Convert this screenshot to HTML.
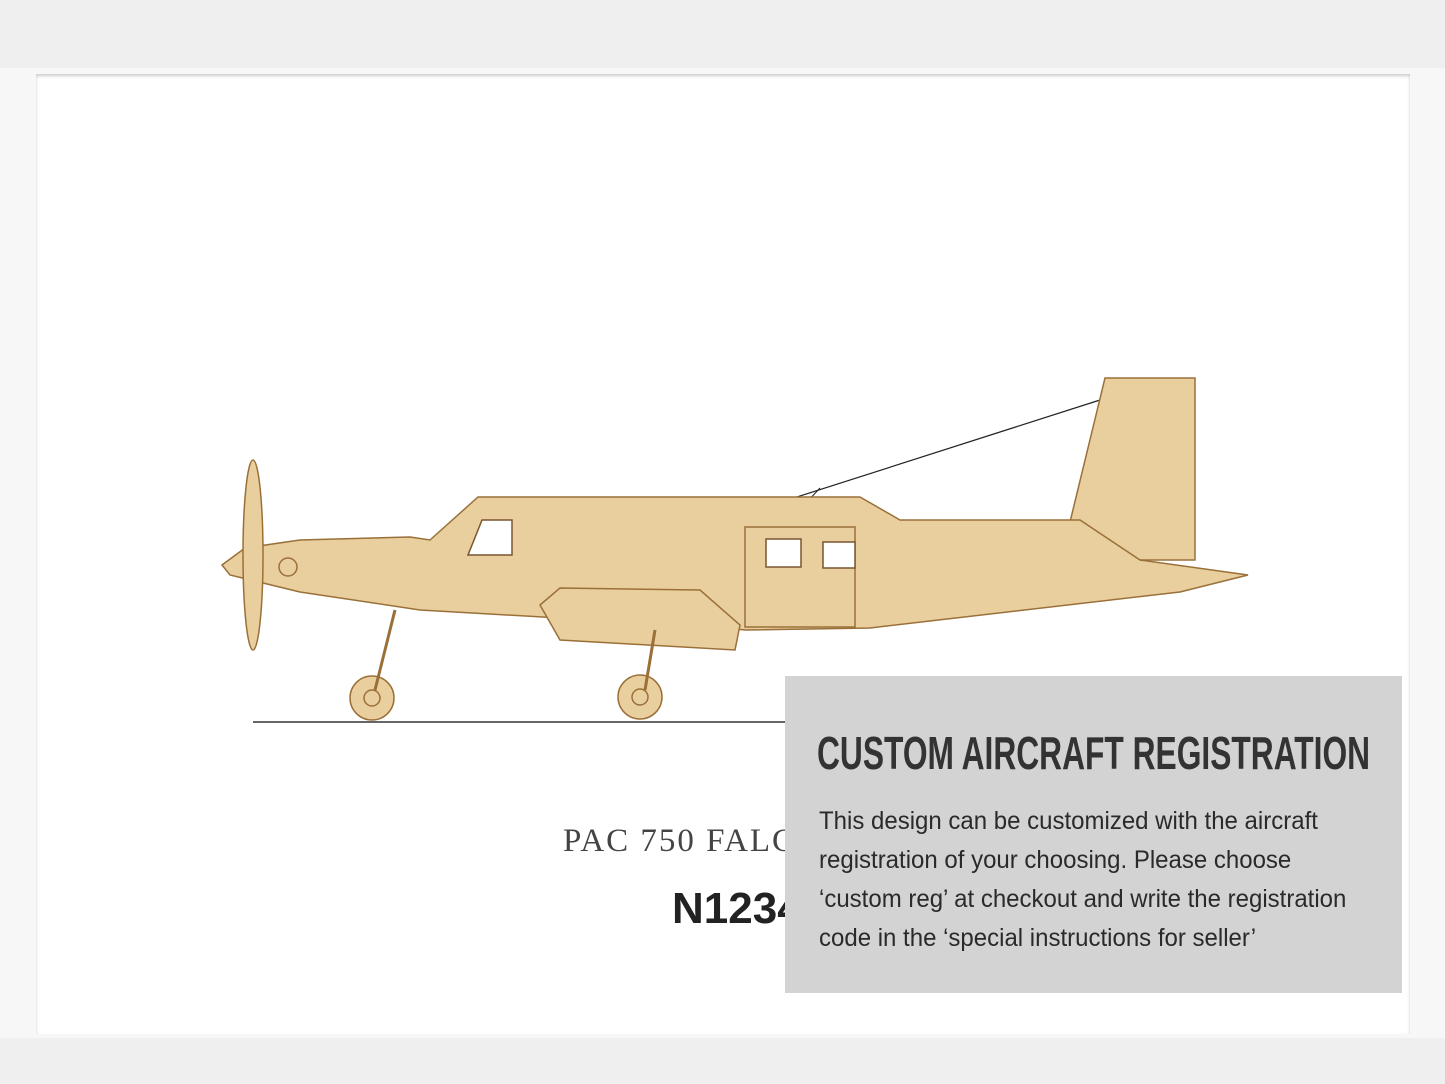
<!DOCTYPE html>
<html><head><meta charset="utf-8"><style>
html,body{margin:0;padding:0;}
body{width:1445px;height:1084px;background:#efefef;position:relative;overflow:hidden;font-family:"Liberation Sans",sans-serif;}
#mat{position:absolute;left:0;top:68px;width:1445px;height:970px;background:#f7f7f7;}
#panel{position:absolute;left:36px;top:74px;width:1374px;height:960px;background:#fff;box-shadow:inset 0 2px 3px #ccc;}
#box{position:absolute;left:785px;top:676px;width:617px;height:317px;background:#d3d3d3;overflow:hidden;}
#box h1{margin:0;position:absolute;left:32px;top:50px;font-family:"Liberation Sans Narrow","Liberation Sans",sans-serif;font-weight:bold;font-size:46px;color:#333;white-space:nowrap;transform:scaleX(0.69);transform-origin:left;}
#box p{margin:0;position:absolute;left:34px;top:126px;font-family:"Liberation Sans Narrow","Liberation Sans",sans-serif;font-size:25px;line-height:39px;color:#2a2a2a;white-space:nowrap;transform:scaleX(0.96);transform-origin:left;}
.t1{position:absolute;left:563px;top:823px;font-family:"Liberation Serif",serif;font-size:33px;color:#444;letter-spacing:2px;}
.t2{position:absolute;left:672px;top:884px;font-family:"Liberation Sans Narrow","Liberation Sans",sans-serif;font-weight:bold;font-size:44px;color:#222;}
</style></head><body>
<div id="mat"></div>
<div id="panel"></div>
<svg width="1445" height="1084" style="position:absolute;left:0;top:0">
<line x1="253" y1="722" x2="935" y2="722" stroke="#333" stroke-width="1.5"/>
<line x1="750" y1="512" x2="1100" y2="400" stroke="#222" stroke-width="1.2"/>
<line x1="820" y1="488" x2="790" y2="520" stroke="#222" stroke-width="1"/>
<g fill="#e9cf9e" stroke="#9a7038" stroke-width="1.5">
<polygon points="1070,522 1105,378 1195,378 1195,560 1080,560"/>
<polygon points="222,565 245,548 300,540 410,537 430,540 478,497 860,497 900,520 1080,520 1140,560 1248,575 1180,592 870,628 745,630 700,625 560,618 420,610 300,592 230,575"/>
<polygon points="540,605 560,588 700,590 740,625 735,650 560,640"/>
<ellipse cx="253" cy="555" rx="10" ry="95"/>
<rect x="745" y="527" width="110" height="100" fill="none"/>
<circle cx="372" cy="698" r="22"/><circle cx="372" cy="698" r="8"/>
<circle cx="640" cy="697" r="22"/><circle cx="640" cy="697" r="8"/>
<line x1="395" y1="610" x2="375" y2="690" stroke-width="3"/>
<line x1="655" y1="630" x2="645" y2="690" stroke-width="3"/>
<circle cx="288" cy="567" r="9"/>
</g>
<g fill="#fff" stroke="#7a5530" stroke-width="1.5">
<polygon points="468,555 482,520 512,520 512,555"/>
<rect x="766" y="539" width="35" height="28"/>
<rect x="823" y="542" width="32" height="26"/>
</g>
</svg>
<div class="t1">PAC 750 FALCO XL</div>
<div class="t2">N1234</div>
<div id="box">
<h1>CUSTOM AIRCRAFT REGISTRATION</h1>
<p>This design can be customized with the aircraft<br>registration of your choosing. Please choose<br>‘custom reg’ at checkout and write the registration<br>code in the ‘special instructions for seller’</p>
</div>
</body></html>
